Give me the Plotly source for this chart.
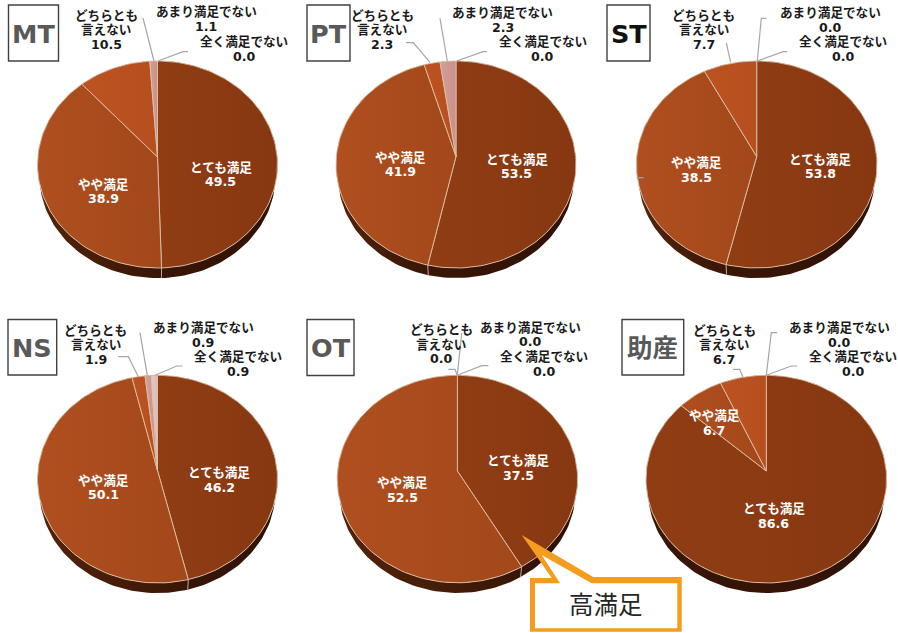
import math
import plotly.graph_objects as go

# ---- data ----
levels = ["とても満足", "やや満足", "どちらとも|言えない", "あまり満足でない", "全く満足でない"]
professions = ["MT", "PT", "ST", "NS", "OT", "助産"]
mt_values = [49.5, 38.9, 10.5, 1.1, 0.0]
pt_values = [53.5, 41.9, 2.3, 2.3, 0.0]
st_values = [53.8, 38.5, 7.7, 0.0, 0.0]
ns_values = [46.2, 50.1, 1.9, 0.9, 0.9]
ot_values = [37.5, 52.5, 0.0, 0.0, 0.0]
josan_values = [86.6, 6.7, 6.7, 0.0, 0.0]
all_values = [mt_values, pt_values, st_values, ns_values, ot_values, josan_values]

# ---- layout of each pie (pixels on the page-sized axes) ----
# centre x, centre y, half width, top edge, bottom edge
pie_geom = [
    (157.5, 157, 120, 61, 268),
    (456, 156.5, 120, 61, 268),
    (756.7, 156.5, 120.3, 61, 268),
    (157.5, 470.5, 120, 375.3, 583),
    (457.4, 471, 120.2, 375.3, 582.8),
    (766.3, 471, 120.3, 375.3, 583),
]
# tag box: x0, x1, y0, y1, text colour, text size
tag_boxes = [
    (8.5, 58.5, 5, 61, "#595959", 25.5),
    (307, 350, 5, 61, "#595959", 25.5),
    (607, 650, 5, 61, "#111111", 25.5),
    (8, 56.7, 319.5, 375, "#595959", 25.5),
    (307, 354, 319.5, 375.5, "#595959", 25.5),
    (622, 683.7, 319.5, 375, "#595959", 25.5),
]
# label anchors for each level: centre x, y of the middle of the block
label_pos = [
    [(220.5, 174.5), (103.3, 191.5), (106, 29.7), (206, 19), (244, 49)],
    [(516.7, 166.5), (400, 164.5), (382.3, 29.7), (502.7, 20), (542.7, 49)],
    [(820.3, 166.5), (696.3, 169.8), (703.7, 29.7), (830.3, 20), (843, 49)],
    [(219, 479.8), (103.3, 487.5), (95.7, 344.7), (203.3, 335), (237.7, 364)],
    [(518.3, 468.2), (402.7, 489.8), (441, 344), (530.7, 334.6), (544, 364)],
    [(773.7, 515.8), (714, 423.2), (724, 344.7), (839.7, 335), (853, 364)],
]
leaders = [
    [[(158, 61), (183, 51.7), (188, 51.7)], [(154, 61), (143, 18)]],
    [[(456.7, 61), (483, 51.7), (487, 51.7)], [(447.3, 61), (440, 18.3)],
     [(430, 62.3), (413.3, 42.7), (406, 42.7)]],
    [[(757.3, 61), (783, 51.7), (787.3, 51.7)], [(757.3, 61), (761.3, 18.3), (766.3, 18.3)],
     [(730.7, 62.3), (726.3, 43)], [(636.3, 177.7), (643.7, 177.7)]],
    [[(155, 375.3), (176.7, 366), (182.7, 366)], [(147.3, 375.3), (140, 332.7)],
     [(138.3, 376.7), (128.3, 356.7), (118.3, 356.7)]],
    [[(457.3, 375.3), (481.7, 365.7), (488.3, 365.7)], [(457.3, 375.3), (461.7, 333.3)],
     [(457.3, 375.3), (455, 369.3), (448.3, 369.3)]],
    [[(766.3, 375.3), (791.3, 366), (797.3, 366)], [(766.3, 375.3), (771.3, 332.7), (777.3, 332.7)],
     [(743, 377.3), (739.7, 369.3), (733, 369.3)]],
]
slice_grad = [
    ("#903D14", "#873811"),
    ("#B04F1F", "#A2481A"),
    ("#BC5321", "#B64E1E"),
    ("#D0A098", "#C99088"),
    ("#E4C8C8", "#DDBBBB"),
]
wall_grad = [
    ("#3A1606", "#2F1205"),
    ("#54240B", "#381606"),
    ("#54240B", "#421A07"),
    ("#54240B", "#421A07"),
    ("#54240B", "#421A07"),
]
EDGE = "#DDBFA8"
LEADER = "#A6A6A6"
ORANGE = "#F39C1D"
FONT = "DejaVu Sans, Noto Sans CJK JP"
DEPTH = 12
LINE_STEP = 14.7


def project(geom, pct, scale=1.0, drop=0.0):
    """Position on the tilted rim of a share measured clockwise from the top."""
    cx, cy, half, top, bottom = geom
    up, down = cy - top, bottom - cy
    k = (down - up) / (down + up)
    b = up * (1 + k)
    a = half * math.sqrt(1 - k * k)
    t = 2 * math.pi * pct / 100
    w = 1 + k * math.cos(t)
    return cx + scale * a * math.sin(t) / w, cy + drop - scale * b * math.cos(t) / w


def rim(geom, p0, p1, scale=1.0, drop=0.0):
    n = max(2, int(abs(p1 - p0) * 2))
    pts = [project(geom, p0 + (p1 - p0) * i / n, scale, drop) for i in range(n + 1)]
    return [p[0] for p in pts], [p[1] for p in pts]


fig = go.Figure()


def gradient(pair):
    return dict(type="horizontal", colorscale=[[0, pair[0]], [1, pair[1]]])


for values, geom in zip(all_values, pie_geom):
    total = sum(values)
    shares = [v / total * 100 for v in values]  # the pie closes on the sum of what is shown
    # side wall
    acc = 0.0
    seams = []
    for i, v in enumerate(shares):
        if v > 0:
            x0, y0 = rim(geom, acc, acc + v)
            x1, y1 = rim(geom, acc + v, acc, 0.983, DEPTH)
            fig.add_trace(go.Scatter(x=x0 + x1, y=y0 + y1, mode="lines", fill="toself",
                                     line=dict(width=0), fillgradient=gradient(wall_grad[i]),
                                     hoverinfo="skip", showlegend=False))
        acc += v
        if v > 0 and 25 < acc < 75:
            seams.append(acc)
    for s in seams:
        a = project(geom, s)
        b = project(geom, s, 0.983, DEPTH)
        fig.add_trace(go.Scatter(x=[a[0], b[0]], y=[a[1], b[1]], mode="lines",
                                 line=dict(color="#B9A79A", width=1),
                                 hoverinfo="skip", showlegend=False))
    # top face
    acc = 0.0
    for i, v in enumerate(shares):
        if v > 0:
            xs, ys = rim(geom, acc, acc + v)
            fig.add_trace(go.Scatter(x=[geom[0]] + xs + [geom[0]], y=[geom[1]] + ys + [geom[1]],
                                     mode="lines", fill="toself",
                                     line=dict(color=EDGE, width=0.9),
                                     fillgradient=gradient(slice_grad[i]),
                                     name=levels[i].replace("|", ""),
                                     hoverinfo="name+text", text=[str(values[i])] * (len(xs) + 2),
                                     showlegend=False))
        acc += v

for group in leaders:
    for path in group:
        fig.add_trace(go.Scatter(x=[p[0] for p in path], y=[p[1] for p in path], mode="lines",
                                 line=dict(color=LEADER, width=1.2),
                                 hoverinfo="skip", showlegend=False))

annotations = []


def text(x, y, s, color="#1A1A1A", size=12.6, weight=700, family=FONT):
    annotations.append(dict(x=x, y=y, xref="x", yref="y", text=s, showarrow=False,
                            xanchor="center", yanchor="middle",
                            font=dict(color=color, size=size, family=family, weight=weight)))


for values, positions in zip(all_values, label_pos):
    for i, (level, v, (x, y)) in enumerate(zip(levels, values, positions)):
        lines = level.split("|") + [f"{v:.1f}"]
        color = "#FFFFFF" if i < 2 else "#1A1A1A"
        for j, line in enumerate(lines):
            text(x, y + (j - (len(lines) - 1) / 2) * LINE_STEP, line, color=color)

shapes = []
for name, (x0, x1, y0, y1, color, size) in zip(professions, tag_boxes):
    shapes.append(dict(type="rect", xref="x", yref="y", x0=x0, x1=x1, y0=y0, y1=y1,
                       line=dict(color="#404040", width=1.4), fillcolor="#FFFFFF"))
    text((x0 + x1) / 2, (y0 + y1) / 2 + 0.5, name, color=color, size=size)

# callout: orange outline drawn as outer and inner outlines so that the tail stays pointed
shapes.append(dict(type="path", xref="x", yref="y",
                   path="M530,578 L551.7,578 L521.7,535 L593.3,577 L681.7,577 L681.7,631.7 L530,631.7 Z",
                   line=dict(width=0), fillcolor=ORANGE))
shapes.append(dict(type="path", xref="x", yref="y",
                   path="M535,583.3 L560,583.3 L541.7,555 L591.7,583.3 L677.3,583.3 L677.3,628.3 L535,628.3 Z",
                   line=dict(width=0), fillcolor="#FFFFFF"))
text(605.7, 603, "高満足", color="#262626", size=24.5, weight=400, family="Noto Sans CJK JP")

fig.update_layout(
    width=898, height=633, margin=dict(l=0, r=0, t=0, b=0),
    paper_bgcolor="#FFFFFF", plot_bgcolor="#FFFFFF", showlegend=False,
    xaxis=dict(range=[0, 898], visible=False, fixedrange=True),
    yaxis=dict(range=[633, 0], visible=False, fixedrange=True),
    shapes=shapes, annotations=annotations,
)
fig.write_html("out.html", config={"displayModeBar": False},
               post_script="document.body.style.margin='0';document.body.style.overflow='hidden';")
